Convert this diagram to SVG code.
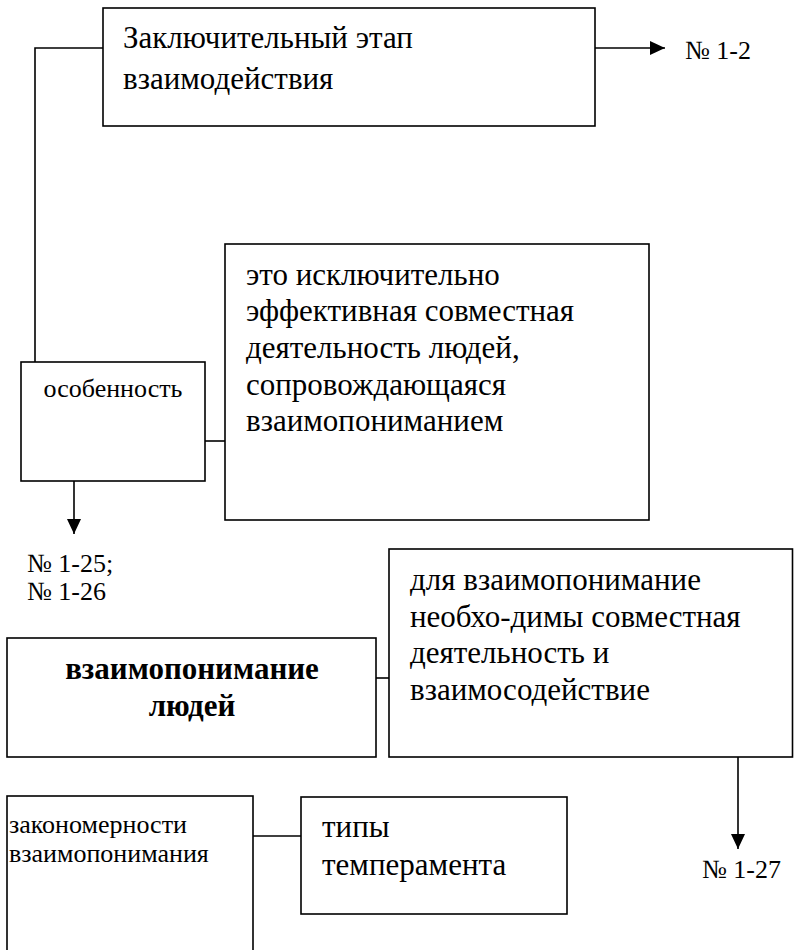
<svg xmlns="http://www.w3.org/2000/svg" width="794" height="950" viewBox="0 0 794 950">
<style>
.box{fill:#fff;stroke:#000;stroke-width:1.6}
.ln{fill:none;stroke:#000;stroke-width:1.6}
.t{font-family:"Liberation Serif","Tinos","Times New Roman","DejaVu Serif","Noto Serif","FreeSerif","Nimbus Roman",serif;fill:#000}
.big{font-size:31px}
.mid{font-size:26px}
.b{font-weight:bold}
</style>
<defs>
<marker id="ah" markerWidth="15" markerHeight="14" refX="15" refY="7" orient="auto" markerUnits="userSpaceOnUse">
<path d="M0,0 L15,7 L0,14 Z" fill="#000"/>
</marker>
</defs>
<rect width="794" height="950" fill="#fff"/>
<g id="connectors">
<polyline class="ln" points="103,48 35,48 35,362"/>
<line class="ln" x1="595" y1="48" x2="665" y2="48" marker-end="url(#ah)"/>
<line class="ln" x1="205" y1="441" x2="225" y2="441"/>
<line class="ln" x1="74" y1="481" x2="74" y2="534" marker-end="url(#ah)"/>
<line class="ln" x1="376" y1="678" x2="389" y2="678"/>
<line class="ln" x1="738" y1="757" x2="738" y2="849" marker-end="url(#ah)"/>
<line class="ln" x1="253" y1="836" x2="301" y2="836"/>
</g>
<g id="n-final">
<rect class="box" x="103" y="8" width="492" height="118"/>
<text class="t big" x="123" y="48">Заключительный этап</text>
<text class="t big" x="123" y="89">взаимодействия</text>
</g>
<g id="l-12"><text class="t mid" x="685" y="59">№ 1-2</text></g>
<g id="n-osob">
<rect class="box" x="21" y="362" width="184" height="119"/>
<text class="t mid" x="113" y="397" text-anchor="middle">особенность</text>
</g>
<g id="n-def">
<rect class="box" x="225" y="244" width="424" height="276"/>
<text class="t big" x="246"><tspan x="246" y="285">это исключительно</tspan><tspan x="246" y="321">эффективная совместная</tspan><tspan x="246" y="358">деятельность людей,</tspan><tspan x="246" y="395">сопровождающаяся</tspan><tspan x="246" y="431">взаимопониманием</tspan></text>
</g>
<g id="l-2526"><text class="t mid"><tspan x="27" y="572">№ 1-25;</tspan><tspan x="27" y="600">№ 1-26</tspan></text></g>
<g id="n-need">
<rect class="box" x="389" y="549" width="403.5" height="208"/>
<text class="t big"><tspan x="410" y="590">для взаимопонимание</tspan><tspan x="410" y="627">необхо-димы совместная</tspan><tspan x="410" y="663">деятельность и</tspan><tspan x="410" y="700">взаимосодействие</tspan></text>
</g>
<g id="n-main">
<rect class="box" x="7" y="638" width="369" height="119"/>
<text class="t big b" text-anchor="middle"><tspan x="192" y="679">взаимопонимание</tspan><tspan x="192" y="716">людей</tspan></text>
</g>
<g id="n-zak">
<rect class="box" x="7" y="796" width="246" height="170"/>
<text class="t mid"><tspan x="9" y="833">закономерности</tspan><tspan x="9" y="862">взаимопонимания</tspan></text>
</g>
<g id="n-types">
<rect class="box" x="301" y="797" width="266" height="117"/>
<text class="t big"><tspan x="322" y="837">типы</tspan><tspan x="322" y="875">темперамента</tspan></text>
</g>
<g id="l-27"><text class="t mid" x="702" y="878">№ 1-27</text></g>
</svg>
